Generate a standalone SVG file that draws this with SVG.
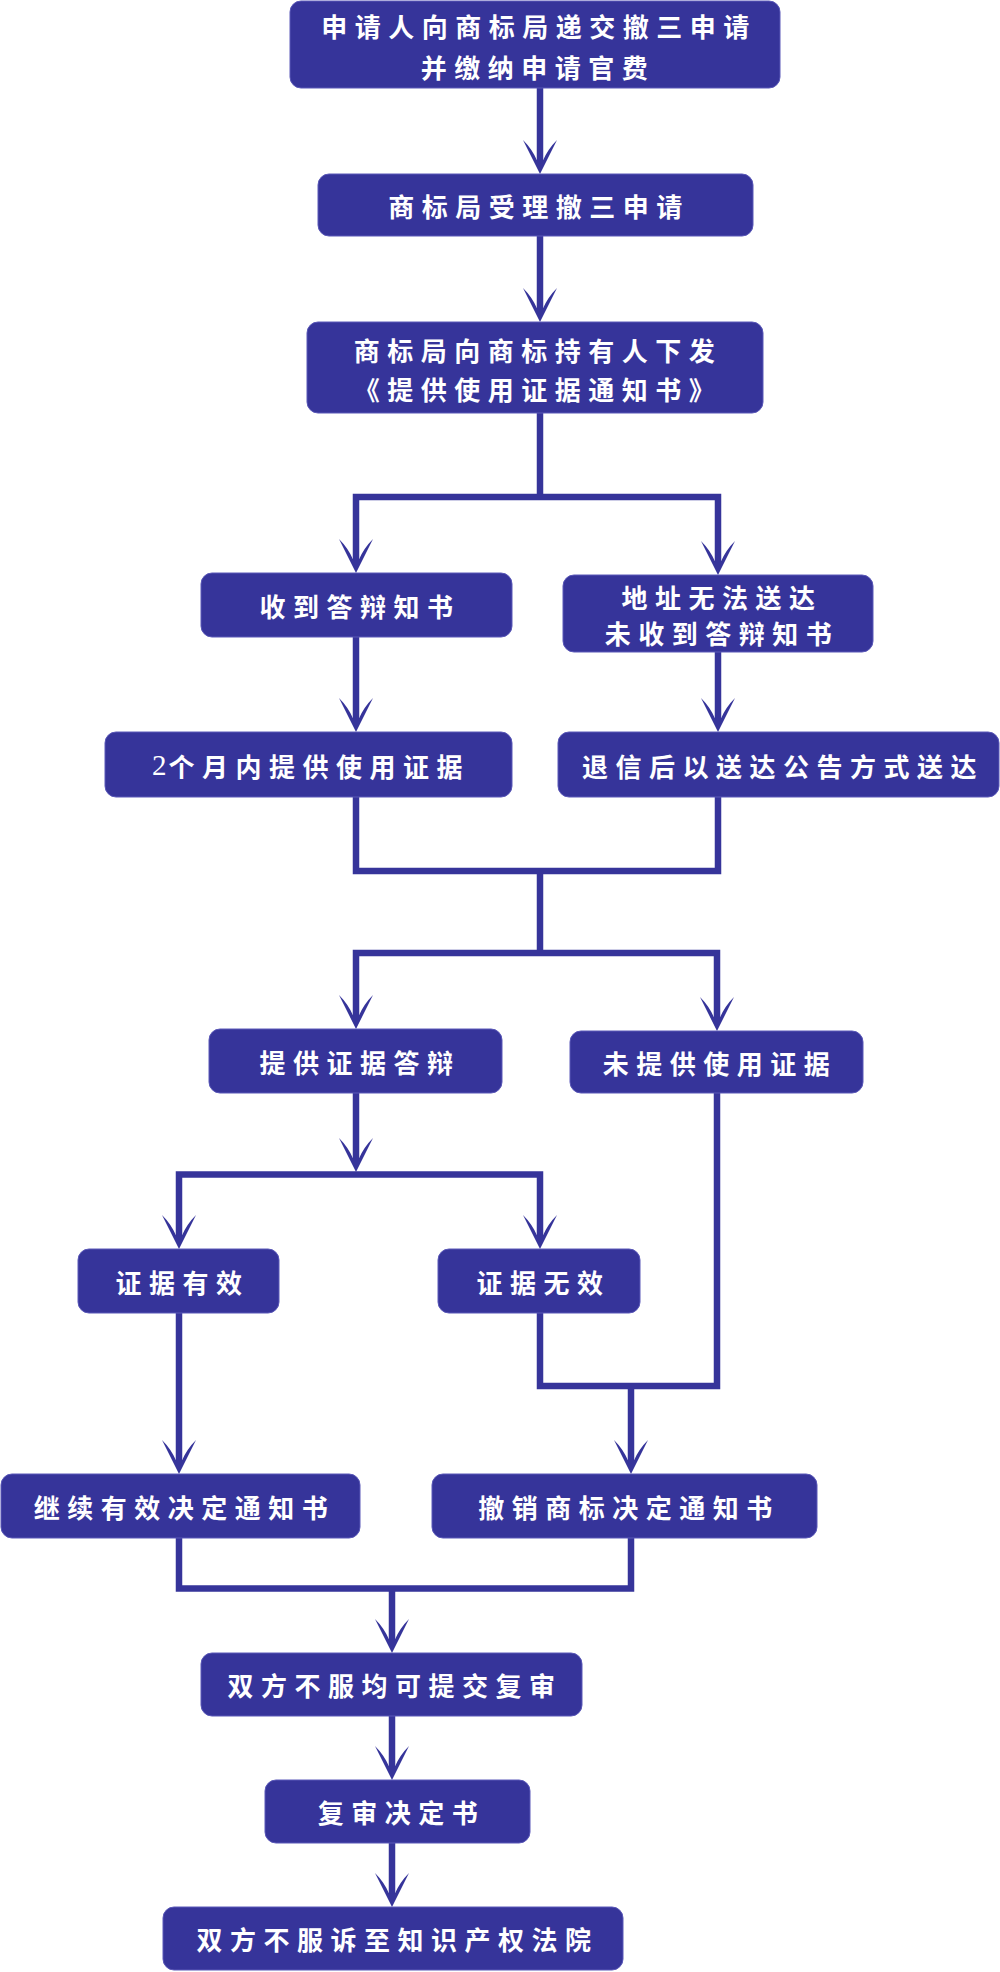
<svg xmlns="http://www.w3.org/2000/svg" width="1000" height="1972" viewBox="0 0 1000 1972">
<style>
.box{fill:#36349a;stroke:#5a58b8;stroke-width:1}
.t{fill:#ffffff;font-family:"Noto Sans CJK SC","Noto Sans CJK TC",sans-serif;font-size:26px;font-weight:700;letter-spacing:7.5px;text-anchor:middle;dominant-baseline:central}
.num{font-family:"Liberation Serif",serif;font-weight:400;font-size:29px;letter-spacing:2px}
.c{fill:none;stroke:#36349a;stroke-width:6.5;stroke-linejoin:miter;stroke-linecap:butt}
.a{marker-end:url(#ah)}
</style>
<defs>
<marker id="ah" markerUnits="userSpaceOnUse" viewBox="-40 -20 44 40" refX="-8" refY="0" markerWidth="44" markerHeight="40" orient="auto">
<path d="M0,0 L-34,-17 Q-25,-8 -14,-3.2 L-14,3.2 Q-25,8 -34,17 Z" fill="#36349a"/>
</marker>
</defs>
<rect width="1000" height="1972" fill="#ffffff"/>
<g id="connectors">
<path class="c a" d="M540,88 V166"/>
<path class="c a" d="M540,236 V314"/>
<path class="c" d="M540,413 V497"/>
<path class="c a" d="M540,497 H356 V565"/>
<path class="c a" d="M540,497 H718 V567"/>
<path class="c a" d="M356,637 V724"/>
<path class="c a" d="M718,652 V724"/>
<path class="c" d="M356,797 V871 H718 V797"/>
<path class="c" d="M540,871 V953"/>
<path class="c a" d="M540,953 H356 V1021"/>
<path class="c a" d="M540,953 H717 V1023"/>
<path class="c a" d="M356,1093 V1164"/>
<path class="c a" d="M356,1174.5 H179 V1241"/>
<path class="c a" d="M356,1174.5 H540 V1241"/>
<path class="c a" d="M179,1313 V1466"/>
<path class="c" d="M540,1313 V1386 H717 V1093"/>
<path class="c a" d="M631,1386 V1466"/>
<path class="c" d="M179,1538 V1588.5 H631 V1538"/>
<path class="c a" d="M392,1588.5 V1645"/>
<path class="c a" d="M392,1716 V1772"/>
<path class="c a" d="M392,1843 V1899"/>
</g>
<g id="n1"><rect class="box" x="290" y="1" width="490" height="87" rx="11"/>
<text class="t" x="539" y="25">申请人向商标局递交撤三申请</text>
<text class="t" x="538" y="66">并缴纳申请官费</text></g>
<g id="n2"><rect class="box" x="318" y="174" width="435" height="62" rx="11"/>
<text class="t" x="539" y="205">商标局受理撤三申请</text></g>
<g id="n3"><rect class="box" x="307" y="322" width="456" height="91" rx="11"/>
<text class="t" x="538" y="349">商标局向商标持有人下发</text>
<text class="t" x="538" y="388">《提供使用证据通知书》</text></g>
<g id="n4"><rect class="box" x="201" y="573" width="311" height="64" rx="11"/>
<text class="t" x="360" y="605">收到答辩知书</text></g>
<g id="n5"><rect class="box" x="563" y="575" width="310" height="77" rx="11"/>
<text class="t" x="722" y="596">地址无法送达</text>
<text class="t" x="722" y="632">未收到答辩知书</text></g>
<g id="n6"><rect class="box" x="105" y="732" width="407" height="65" rx="11"/>
<text class="t" x="311" y="765"><tspan class="num">2</tspan>个月内提供使用证据</text></g>
<g id="n7"><rect class="box" x="558" y="732" width="441" height="65" rx="11"/>
<text class="t" x="783" y="765">退信后以送达公告方式送达</text></g>
<g id="n8"><rect class="box" x="209" y="1029" width="293" height="64" rx="11"/>
<text class="t" x="360" y="1061">提供证据答辩</text></g>
<g id="n9"><rect class="box" x="570" y="1031" width="293" height="62" rx="11"/>
<text class="t" x="720" y="1062">未提供使用证据</text></g>
<g id="n10"><rect class="box" x="78" y="1249" width="201" height="64" rx="11"/>
<text class="t" x="182.5" y="1281">证据有效</text></g>
<g id="n11"><rect class="box" x="438" y="1249" width="202" height="64" rx="11"/>
<text class="t" x="543.5" y="1281">证据无效</text></g>
<g id="n12"><rect class="box" x="1" y="1474" width="359" height="64" rx="11"/>
<text class="t" x="184.5" y="1506">继续有效决定通知书</text></g>
<g id="n13"><rect class="box" x="432" y="1474" width="385" height="64" rx="11"/>
<text class="t" x="629" y="1506">撤销商标决定通知书</text></g>
<g id="n14"><rect class="box" x="201" y="1653" width="381" height="63" rx="11"/>
<text class="t" x="395" y="1684">双方不服均可提交复审</text></g>
<g id="n15"><rect class="box" x="265" y="1780" width="265" height="63" rx="11"/>
<text class="t" x="401.5" y="1811">复审决定书</text></g>
<g id="n16"><rect class="box" x="163" y="1907" width="460" height="63" rx="11"/>
<text class="t" x="397.5" y="1938">双方不服诉至知识产权法院</text></g>
</svg>
